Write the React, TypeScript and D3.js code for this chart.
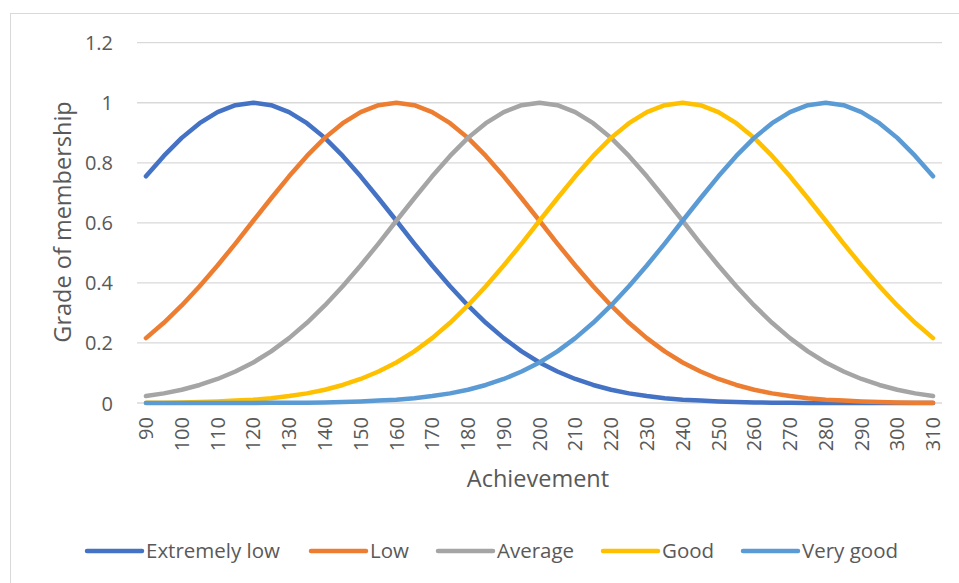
import React from "react";
import * as d3 from "d3";

// Achievement scores sampled every 5 points; only every 10th is labelled
const achievement: number[] = [
  90, 95, 100, 105, 110, 115, 120, 125, 130, 135, 140, 145, 150, 155, 160,
  165, 170, 175, 180, 185, 190, 195, 200, 205, 210, 215, 220, 225, 230, 235,
  240, 245, 250, 255, 260, 265, 270, 275, 280, 285, 290, 295, 300, 305, 310,
];

const tickLabels: number[] = [
  90, 100, 110, 120, 130, 140, 150, 160, 170, 180, 190, 200, 210, 220, 230,
  240, 250, 260, 270, 280, 290, 300, 310,
];

const yTicks: number[] = [0, 0.2, 0.4, 0.6, 0.8, 1, 1.2];

const extremelyLow: number[] = [
  0.755, 0.823, 0.883, 0.932, 0.969, 0.992, 1, 0.992, 0.969, 0.932, 0.883,
  0.823, 0.755, 0.682, 0.607, 0.531, 0.458, 0.389, 0.325, 0.267, 0.216, 0.172,
  0.135, 0.105, 0.08, 0.06, 0.044, 0.032, 0.023, 0.016, 0.011, 0.008, 0.005,
  0.003, 0.002, 0.001, 0.001, 0, 0, 0, 0, 0, 0, 0, 0,
];

const low: number[] = [
  0.216, 0.267, 0.325, 0.389, 0.458, 0.531, 0.607, 0.682, 0.755, 0.823, 0.883,
  0.932, 0.969, 0.992, 1, 0.992, 0.969, 0.932, 0.883, 0.823, 0.755, 0.682,
  0.607, 0.531, 0.458, 0.389, 0.325, 0.267, 0.216, 0.172, 0.135, 0.105, 0.08,
  0.06, 0.044, 0.032, 0.023, 0.016, 0.011, 0.008, 0.005, 0.003, 0.002, 0.001,
  0.001,
];

const average: number[] = [
  0.023, 0.032, 0.044, 0.06, 0.08, 0.105, 0.135, 0.172, 0.216, 0.267, 0.325,
  0.389, 0.458, 0.531, 0.607, 0.682, 0.755, 0.823, 0.883, 0.932, 0.969, 0.992,
  1, 0.992, 0.969, 0.932, 0.883, 0.823, 0.755, 0.682, 0.607, 0.531, 0.458,
  0.389, 0.325, 0.267, 0.216, 0.172, 0.135, 0.105, 0.08, 0.06, 0.044, 0.032,
  0.023,
];

const good: number[] = [
  0.001, 0.001, 0.002, 0.003, 0.005, 0.008, 0.011, 0.016, 0.023, 0.032, 0.044,
  0.06, 0.08, 0.105, 0.135, 0.172, 0.216, 0.267, 0.325, 0.389, 0.458, 0.531,
  0.607, 0.682, 0.755, 0.823, 0.883, 0.932, 0.969, 0.992, 1, 0.992, 0.969,
  0.932, 0.883, 0.823, 0.755, 0.682, 0.607, 0.531, 0.458, 0.389, 0.325, 0.267,
  0.216,
];

const veryGood: number[] = [
  0, 0, 0, 0, 0, 0, 0, 0.001, 0.001, 0.001, 0.002, 0.003, 0.005, 0.008, 0.011,
  0.016, 0.023, 0.032, 0.044, 0.06, 0.08, 0.105, 0.135, 0.172, 0.216, 0.267,
  0.325, 0.389, 0.458, 0.531, 0.607, 0.682, 0.755, 0.823, 0.883, 0.932, 0.969,
  0.992, 1, 0.992, 0.969, 0.932, 0.883, 0.823, 0.755,
];

const seriesNames: string[] = ["Extremely low", "Low", "Average", "Good", "Very good"];
const seriesColors: string[] = ["#4472C4", "#ED7D31", "#A5A5A5", "#FFC000", "#5B9BD5"];
const seriesValues: number[][] = [extremelyLow, low, average, good, veryGood];

const W = 959;
const H = 583;
const FONT = "'Open Sans', Lato, sans-serif";
const TEXT = "#595959";
const GRID = "#D9D9D9";

// legend entries: where each swatch line begins
const legendLineX: number[] = [87, 311, 438, 603, 743];

export default function App() {
  const x = d3
    .scaleBand<number>()
    .domain(achievement)
    .range([137, 942])
    .paddingInner(0)
    .paddingOuter(0);
  const y = d3.scaleLinear().domain([0, 1.2]).range([403, 42.7]);
  const cx = (v: number) => (x(v) ?? 0) + x.bandwidth() / 2;

  const line = d3
    .line<[number, number]>()
    .x((d) => cx(d[0]))
    .y((d) => y(d[1]))
    .curve(d3.curveLinear);

  return (
    <svg
      width={W}
      height={H}
      style={{ position: "absolute", left: 0, top: 0, background: "#fff" }}
      fontFamily={FONT}
    >
      <rect x={10.5} y={13.5} width={W + 10} height={H + 10} fill="#fff" stroke="#D9D9D9" />
      {yTicks.map((t) => (
        <g key={t}>
          <line x1={137} x2={942} y1={y(t)} y2={y(t)} stroke={GRID} strokeWidth={1.3} />
          <text x={113} y={y(t) + 7.5} textAnchor="end" fontSize={20} fill={TEXT}>
            {t}
          </text>
        </g>
      ))}
      {tickLabels.map((t) => (
        <text
          key={t}
          transform={`translate(${cx(t)},${417}) rotate(-90)`}
          dy="0.36em"
          textAnchor="end"
          fontSize={20}
          fill={TEXT}
        >
          {t}
        </text>
      ))}
      <text
        transform={`translate(63,222) rotate(-90)`}
        dy="0.35em"
        textAnchor="middle"
        fontSize={23.5}
        fill={TEXT}
      >
        Grade of membership
      </text>
      <text x={538} y={487} textAnchor="middle" fontSize={23.5} fill={TEXT}>
        Achievement
      </text>
      {seriesValues.map((vals, i) => (
        <path
          key={seriesNames[i]}
          d={line(achievement.map((a, j) => [a, vals[j]] as [number, number])) ?? ""}
          fill="none"
          stroke={seriesColors[i]}
          strokeWidth={4.5}
          strokeLinecap="round"
          strokeLinejoin="round"
        />
      ))}
      {seriesNames.map((name, i) => (
        <g key={name}>
          <line
            x1={legendLineX[i]}
            x2={legendLineX[i] + 55}
            y1={551}
            y2={551}
            stroke={seriesColors[i]}
            strokeWidth={4.5}
            strokeLinecap="round"
          />
          <text x={legendLineX[i] + 59} y={558} fontSize={20.5} fill={TEXT}>
            {name}
          </text>
        </g>
      ))}
    </svg>
  );
}
